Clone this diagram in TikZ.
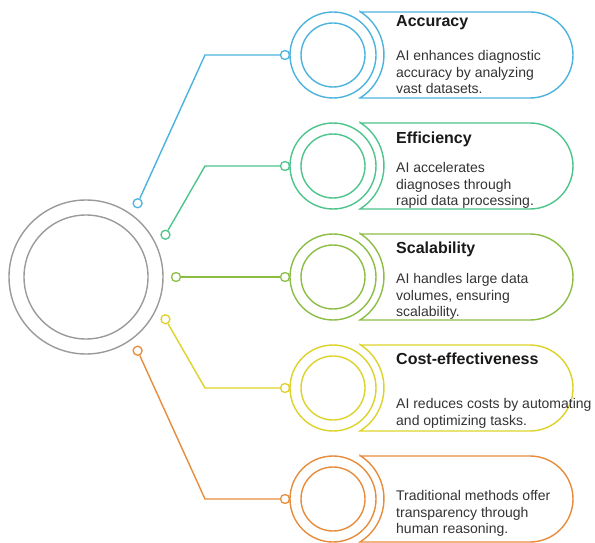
\documentclass[tikz,border=0pt]{standalone}
\usepackage{fontspec}
\setmainfont{Liberation Sans}

\definecolor{hubgray}{HTML}{9A9A9A}
\definecolor{accblue}{HTML}{4BB3DD}
\definecolor{effgreen}{HTML}{4DC48C}
\definecolor{scalime}{HTML}{8CBE46}
\definecolor{costyellow}{HTML}{DDD22A}
\definecolor{tradorange}{HTML}{E68C3C}

\tikzset{
  ring/.style={circle, draw, line width=1.4pt, minimum size=#1, inner sep=0pt},
  knob/.style={circle, draw, fill=white, line width=1.3pt, minimum size=9pt, inner sep=0pt},
  link/.style={line width=1.4pt},
  heading/.style={anchor=north west, inner sep=0pt, text=black!90,
    font=\fontsize{16}{19}\selectfont\bfseries},
  blurb/.style={anchor=north west, inner sep=0pt, align=left, text=black!80,
    font=\fontsize{14}{16.7}\selectfont},
}

\begin{document}
\begin{tikzpicture}[x=1pt, y=1pt]
    \useasboundingbox (0,0) rectangle (595,542);

    % central hub
    \node[ring=154pt, draw=hubgray] (hub) at (86,265) {};
    \draw[hubgray, line width=1.4pt] (hub.center) circle (62pt);

    \foreach \i/\cy/\ang/\col/\ttl/\ty/\body/\by in {
      1/487/55/accblue/Accuracy/40/{AI enhances diagnostic\\accuracy by analyzing\\vast datasets.}/-5,
      2/376/28/effgreen/Efficiency/34/{AI accelerates\\diagnoses through\\rapid data processing.}/-4,
      3/265/0/scalime/Scalability/35/{AI handles large data\\volumes, ensuring\\scalability.}/-4,
      4/154/-28/costyellow/Cost-effectiveness/35/{AI reduces costs by automating\\and optimizing tasks.}/10,
      5/43/-55/tradorange//35/{Traditional methods offer\\transparency through\\human reasoning.}/-9} {

      % pill behind the rings
      \draw[\col, link] (360,\cy+43) -- (530,\cy+43) arc (90:-90:43pt)
        -- (360,\cy-43) arc (-58:58:51pt) -- cycle;

      \node[ring=86pt, draw=\col] (item-\i) at (333,\cy) {};
      \draw[\col, line width=1.4pt] (item-\i.center) circle (32pt);

      \node[knob, draw=\col] (itemdot-\i) at (285,\cy) {};
      \node[knob, draw=\col] (hubdot-\i) at ([shift={(\ang:90pt)}]hub.center) {};
      \coordinate (bend-\i) at (205,\cy);

      \draw[\col, link] (hubdot-\i) -- (bend-\i) -- (itemdot-\i);

      \node[heading] (title-\i) at (396,\cy+\ty) {\ttl};
      \node[blurb] (text-\i) at (396,\cy-\by) {\body};
    }
\end{tikzpicture}
\end{document}
